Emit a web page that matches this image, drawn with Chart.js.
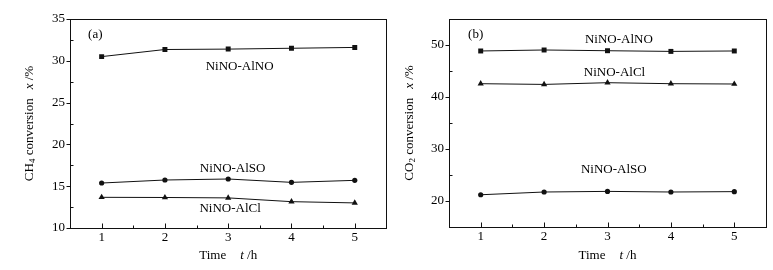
<!DOCTYPE html>
<html>
<head>
<meta charset="utf-8">
<script src="https://cdn.jsdelivr.net/npm/chart.js@4/dist/chart.umd.min.js"></script>
<style>
    body { margin: 0; background: #fff; }
    #wrap { position: relative; width: 773px; height: 270px; }
    canvas { position: absolute; top: 0; }
    #chartA { left: 0; }
    #chartB { left: 390px; }
</style>
</head>
<body>
<div id="wrap">
    <canvas id="chartA" width="390" height="270"></canvas>
    <canvas id="chartB" width="383" height="270"></canvas>
</div>
<script>
const times = [1, 2, 3, 4, 5];

// (a) CH4 conversion, %
const ch4AlNO = [30.5, 31.35, 31.4, 31.5, 31.6];
const ch4AlSO = [15.38, 15.74, 15.86, 15.46, 15.7];
const ch4AlCl = [13.67, 13.65, 13.6, 13.15, 13.0];

// (b) CO2 conversion, %
const co2AlNO = [48.85, 49.04, 48.9, 48.77, 48.85];
const co2AlCl = [42.56, 42.42, 42.75, 42.56, 42.5];
const co2AlSO = [21.2, 21.73, 21.85, 21.73, 21.8];

const xTicks = [1, 2, 3, 4, 5];
const xMinor = [1.5, 2.5, 3.5, 4.5];
const yTicksA = [10, 15, 20, 25, 30, 35];
const yMinorA = [12.5, 17.5, 22.5, 27.5, 32.5];
const yTicksB = [20, 30, 40, 50];
const yMinorB = [25, 35, 45];

const ink = '#111';
const serif = '"Liberation Serif", "Times New Roman", serif';
const f13 = `13px ${serif}`;
const f13i = `italic 13px ${serif}`;
const f9 = `9px ${serif}`;

Chart.defaults.color = '#000';
Chart.defaults.font.family = serif;
Chart.defaults.font.size = 13;

function pts(vals) {
    return times.map((t, i) => ({x: t, y: vals[i]}));
}

function series(vals, style, r) {
    return {
        data: pts(vals),
        borderColor: ink,
        borderWidth: 1,
        backgroundColor: ink,
        pointStyle: style,
        pointRadius: r,
        pointHoverRadius: r,
        pointBorderWidth: 0,
        pointBackgroundColor: ink,
        tension: 0
    };
}

function runsWidth(ctx, runs) {
    let w = 0;
    runs.forEach(r => {
        if (r.gap) { w += r.gap; return; }
        ctx.font = r.font;
        w += ctx.measureText(r.text).width;
    });
    return w;
}

function drawRuns(ctx, runs, x0, y0) {
    let x = x0;
    runs.forEach(r => {
        if (r.gap) { x += r.gap; return; }
        ctx.font = r.font;
        ctx.fillText(r.text, x, y0 + (r.dy || 0));
        x += ctx.measureText(r.text).width;
    });
}

const frame = {
    id: 'frame',
    afterDraw(chart, args, o) {
        const {ctx, chartArea: a, scales: {x, y}} = chart;
        const L = Math.round(a.left) + 0.5, R = Math.round(a.right) + 0.5;
        const T = Math.round(a.top) + 0.5, B = Math.round(a.bottom) + 0.5;
        ctx.save();
        ctx.strokeStyle = ink;
        ctx.lineWidth = 1;
        ctx.strokeRect(L, T, R - L, B - T);
        ctx.beginPath();
        xTicks.forEach(v => {
            const px = Math.round(x.getPixelForValue(v)) + 0.5;
            ctx.moveTo(px, B); ctx.lineTo(px, B - 5);
        });
        xMinor.forEach(v => {
            const px = Math.round(x.getPixelForValue(v)) + 0.5;
            ctx.moveTo(px, B); ctx.lineTo(px, B - 3);
        });
        o.yMajor.forEach(v => {
            const py = Math.round(y.getPixelForValue(v)) + 0.5;
            ctx.moveTo(L, py); ctx.lineTo(L - 4, py);
        });
        o.yMinor.forEach(v => {
            const py = Math.round(y.getPixelForValue(v)) + 0.5;
            ctx.moveTo(L, py); ctx.lineTo(L + 3, py);
        });
        ctx.stroke();

        ctx.fillStyle = '#000';
        ctx.textBaseline = 'middle';
        ctx.textAlign = 'center';
        ctx.font = f13;
        o.notes.forEach(n => {
            ctx.fillText(n.text, x.getPixelForValue(n.x), y.getPixelForValue(n.y));
        });

        ctx.textAlign = 'left';
        const xt = [{text: 'Time', font: f13}, {gap: 14}, {text: 't', font: f13i}, {text: ' /h', font: f13}];
        const xw = runsWidth(ctx, xt);
        drawRuns(ctx, xt, (a.left + a.right) / 2 - xw / 2, 256);

        const yt = [{text: o.gas, font: f13}, {text: o.sub, font: f9, dy: 3}, {text: ' conversion', font: f13},
            {gap: 9}, {text: 'x', font: f13i}, {text: ' /%', font: f13}];
        const yw = runsWidth(ctx, yt);
        ctx.translate(o.titleX, (a.top + a.bottom) / 2);
        ctx.rotate(-Math.PI / 2);
        drawRuns(ctx, yt, -yw / 2, 0);
        ctx.restore();
    }
};

function makeChart(id, cfg) {
    return new Chart(document.getElementById(id), {
        type: 'line',
        data: {datasets: cfg.datasets},
        options: {
            responsive: false,
            animation: false,
            layout: {padding: {top: 19, right: cfg.padRight, left: 0, bottom: 0}},
            plugins: {
                legend: {display: false},
                tooltip: {enabled: false},
                frame: cfg.frame
            },
            scales: {
                x: {
                    type: 'linear',
                    min: 0.5,
                    max: 5.5,
                    afterBuildTicks: s => { s.ticks = xTicks.map(v => ({value: v})); },
                    afterFit: s => { s.height = cfg.xHeight; },
                    grid: {display: false, drawTicks: false},
                    border: {display: false},
                    ticks: {padding: 2, font: {size: 13}, color: '#000'}
                },
                y: {
                    min: cfg.yMin,
                    max: cfg.yMax,
                    afterBuildTicks: s => { s.ticks = cfg.yTicks.map(v => ({value: v})); },
                    afterFit: s => { s.width = cfg.yWidth; },
                    grid: {display: false, drawTicks: false},
                    border: {display: false},
                    ticks: {padding: 5, font: {size: 13}, color: '#000'}
                }
            }
        },
        plugins: [frame]
    });
}

makeChart('chartA', {
    datasets: [
        series(ch4AlNO, 'rect', 3.5),
        series(ch4AlSO, 'circle', 2.6),
        series(ch4AlCl, 'triangle', 3.6)
    ],
    yMin: 10, yMax: 35, yTicks: yTicksA,
    yWidth: 70, xHeight: 42, padRight: 3,
    frame: {
        yMajor: yTicksA, yMinor: yMinorA,
        gas: 'CH', sub: '4', titleX: 30,
        notes: [
            {text: '(a)', x: 0.9, y: 33.1},
            {text: 'NiNO-AlNO', x: 3.18, y: 29.3},
            {text: 'NiNO-AlSO', x: 3.07, y: 17.06},
            {text: 'NiNO-AlCl', x: 3.03, y: 12.27}
        ]
    }
});

makeChart('chartB', {
    datasets: [
        series(co2AlNO, 'rect', 3.5),
        series(co2AlCl, 'triangle', 3.6),
        series(co2AlSO, 'circle', 2.6)
    ],
    yMin: 15, yMax: 55, yTicks: yTicksB,
    yWidth: 59, xHeight: 43, padRight: 7,
    frame: {
        yMajor: yTicksB, yMinor: yMinorB,
        gas: 'CO', sub: '2', titleX: 20,
        notes: [
            {text: '(b)', x: 0.92, y: 51.98},
            {text: 'NiNO-AlNO', x: 3.18, y: 51.0},
            {text: 'NiNO-AlCl', x: 3.11, y: 44.67},
            {text: 'NiNO-AlSO', x: 3.1, y: 26.0}
        ]
    }
});
</script>
</body>
</html>
